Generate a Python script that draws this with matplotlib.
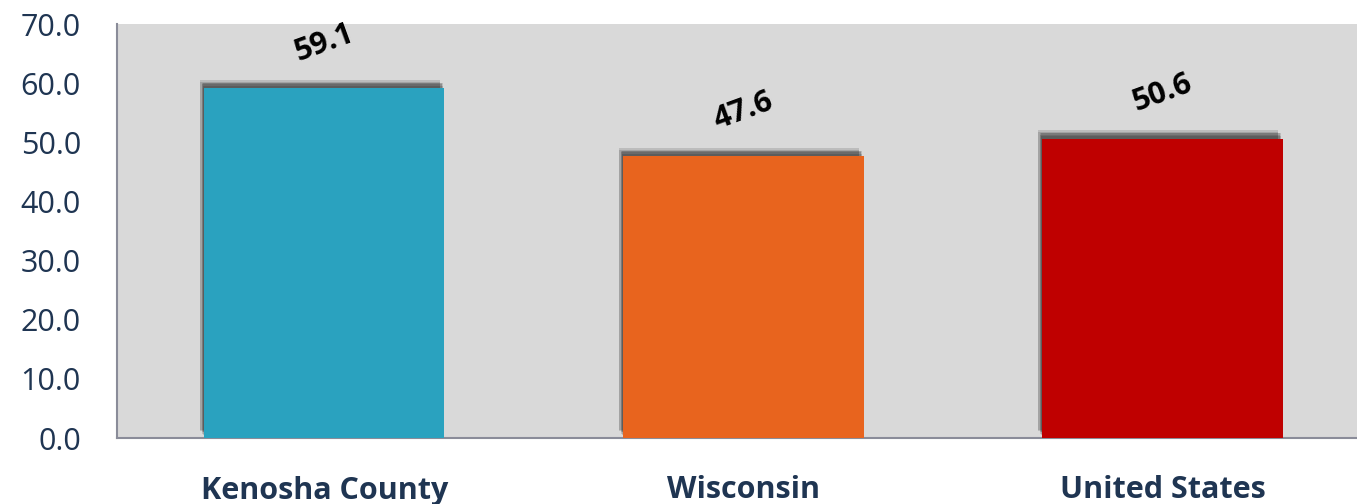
import matplotlib.pyplot as plt
import matplotlib.patheffects as pe

categories = ["Kenosha County", "Wisconsin", "United States"]
values = [59.1, 47.6, 50.6]
colors = ["#2AA2BF", "#E8641E", "#BF0000"]
yticks = [0, 10, 20, 30, 40, 50, 60, 70]

plt.rcParams['font.family'] = ['Open Sans', 'DejaVu Sans']

fig = plt.figure(figsize=(13.57, 5.04), dpi=100)
ax = fig.add_axes([117 / 1357, 1 - 438 / 504, 1 - 117 / 1357, (438 - 24) / 504])
ax.set_facecolor("#D9D9D9")

x = range(len(categories))
bars = ax.bar(x, values, width=0.573, color=colors, zorder=3)
# soft shadow: stack a few faint offset copies
shadow = [pe.SimplePatchShadow(offset=(dx, dy), shadow_rgbFace="black", alpha=0.13)
          for dx, dy in [(-1, 2), (-2, 3), (-2, 4), (-3, 5), (-3, 6), (-1, 4)]]
for b in bars:
    b.set_path_effects(shadow + [pe.Normal()])

for i, v in enumerate(values):
    ax.annotate(f"{v:.1f}", (i, v), xytext=(0, 33), textcoords="offset points",
                ha="center", va="center", rotation=20, fontsize=22, fontweight="bold",
                color="black")

ax.set_xlim(-0.495, 2.464)
ax.set_ylim(0, 70)
ax.set_yticks(yticks)
ax.set_yticklabels([f"{t:.1f}" for t in yticks], fontsize=22, color="#1F3552")
ax.set_xticks(list(x))
ax.set_xticklabels(categories, fontsize=22, fontweight="bold", color="#1F3552")
ax.tick_params(axis="both", length=0)
ax.tick_params(axis="x", pad=27)
ax.tick_params(axis="y", pad=26)

for s in ["top", "right"]:
    ax.spines[s].set_visible(False)
for s in ["left", "bottom"]:
    ax.spines[s].set_color("#8A8C99")
    ax.spines[s].set_linewidth(1.5)

fig.savefig("out.png", dpi=100)
